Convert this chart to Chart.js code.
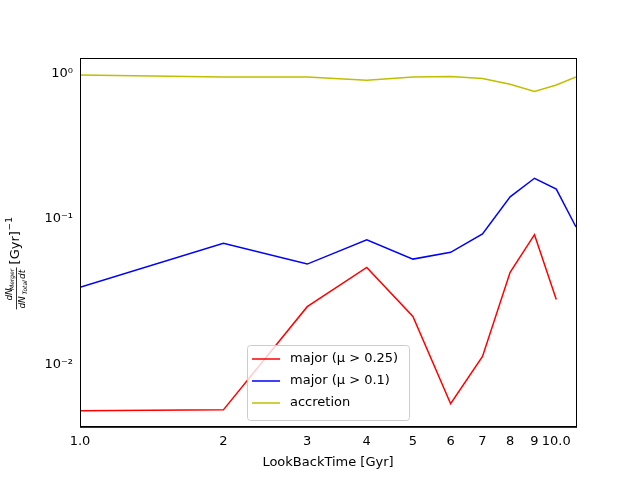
<!DOCTYPE html>
<html>
<head>
<meta charset="utf-8">
<script src="https://cdn.jsdelivr.net/npm/chart.js@4.4.0/dist/chart.umd.min.js"></script>
<style>
  body { margin: 0; background: #fff; }
  #wrap { width: 640px; height: 480px; }
</style>
</head>
<body>
<div id="wrap"><canvas id="chart" width="640" height="480"></canvas></div>
<script>
// --- Data ---
const lookBack = [1, 2, 3, 4, 5, 6, 7, 8, 9, 10, 11];
const major025 = [0.00483, 0.0049, 0.025, 0.0465, 0.0214, 0.0054, 0.0114, 0.043, 0.078, 0.028, null];
const major01 = [0.034, 0.068, 0.049, 0.072, 0.053, 0.059, 0.079, 0.1416, 0.19, 0.16, 0.088];
const accretion = [0.97, 0.94, 0.94, 0.895, 0.94, 0.95, 0.92, 0.84, 0.75, 0.83, 0.94];
const xTicks = [1, 2, 3, 4, 5, 6, 7, 8, 9, 10];
const yTicks = [0.01, 0.1, 1];

const toPoints = arr => lookBack.map((x, i) => ({ x: x, y: arr[i] })).filter(p => p.y !== null);
const sup = { '0': '⁰', '1': '¹', '2': '²', '-': '⁻' };

// legend drawn inside the plot, lower centre
const innerLegend = {
    id: 'innerLegend',
    afterDraw(chart) {
        const ctx = chart.ctx;
        const x0 = 247, y0 = 345, w = 162, h = 75;
        ctx.save();
        ctx.fillStyle = 'rgba(255,255,255,0.8)';
        ctx.strokeStyle = '#ccc';
        ctx.lineWidth = 1;
        ctx.beginPath();
        ctx.roundRect(x0 + 0.5, y0 + 0.5, w, h, 3);
        ctx.fill();
        ctx.stroke();
        ctx.font = '13px "DejaVu Sans"';
        ctx.textBaseline = 'middle';
        chart.data.datasets.forEach((ds, i) => {
            const y = y0 + 14 + i * 22;
            ctx.strokeStyle = ds.borderColor;
            ctx.lineWidth = 1.5;
            ctx.beginPath();
            ctx.moveTo(x0 + 5, y);
            ctx.lineTo(x0 + 33, y);
            ctx.stroke();
            ctx.fillStyle = '#000';
            ctx.fillText(ds.label, x0 + 43, y);
        });
        ctx.restore();
    }
};

// rotated y-axis label
const yLabel = {
    id: 'yLabel',
    afterDraw(chart) {
        const ctx = chart.ctx;
        ctx.save();
        ctx.translate(16, chart.chartArea.top + (chart.chartArea.bottom - chart.chartArea.top) / 2);
        ctx.rotate(-Math.PI / 2);
        ctx.textAlign = 'center';
        ctx.textBaseline = 'middle';
        ctx.fillStyle = '#000';
        ctx.font = 'italic 9px "DejaVu Sans"';
        ctx.fillText('dN', -52, -6);
        ctx.font = 'italic 6px "DejaVu Sans"';
        ctx.fillText('Merger', -37, -4);
        ctx.font = 'italic 9px "DejaVu Sans"';
        ctx.fillText('dN', -60, 7);
        ctx.font = 'italic 6px "DejaVu Sans"';
        ctx.fillText('Total', -45, 9);
        ctx.font = 'italic 9px "DejaVu Sans"';
        ctx.fillText('dt', -32, 7);
        ctx.fillRect(-67, 0, 42, 0.8);
        ctx.font = '13px "DejaVu Sans"';
        ctx.textAlign = 'left';
        ctx.fillText('[Gyr]', -22, 0);
        ctx.font = '9px "DejaVu Sans"';
        ctx.fillText('−1', 12, -6);
        ctx.restore();
    }
};

new Chart(document.getElementById('chart'), {
    type: 'line',
    data: {
        datasets: [
            { label: 'major (μ > 0.25)', data: toPoints(major025), borderColor: '#ff0000' },
            { label: 'major (μ > 0.1)', data: toPoints(major01), borderColor: '#0000ff' },
            { label: 'accretion', data: toPoints(accretion), borderColor: '#bfbf00' }
        ]
    },
    options: {
        responsive: false,
        animation: false,
        layout: { padding: { top: 58, right: 64, left: 0, bottom: 6 } },
        elements: { point: { radius: 0 }, line: { borderWidth: 1.5, tension: 0 } },
        plugins: { legend: { display: false }, tooltip: { enabled: false } },
        scales: {
            x: {
                type: 'logarithmic', min: 1, max: 11,
                afterBuildTicks: s => { s.ticks = xTicks.map(v => ({ value: v })); },
                ticks: {
                    color: '#000', font: { size: 13, family: 'DejaVu Sans' }, maxRotation: 0, autoSkip: false,
                    callback: v => (v === 1 ? '1.0' : v === 10 ? '10.0' : String(v))
                },
                grid: { display: false, drawTicks: true, tickLength: 4, tickColor: '#000' },
                border: { color: '#000' },
                title: { display: true, text: 'LookBackTime [Gyr]', color: '#000', font: { size: 13, family: 'DejaVu Sans' }, padding: { top: 2 } }
            },
            y: {
                type: 'logarithmic', min: 0.00375, max: 1.27,
                afterBuildTicks: s => { s.ticks = yTicks.map(v => ({ value: v })); },
                afterFit: s => { s.width = 80; },
                ticks: {
                    color: '#000', font: { size: 13, family: 'DejaVu Sans' },
                    callback: v => '10' + String(Math.round(Math.log10(v))).split('').map(c => sup[c]).join('')
                },
                grid: { display: false, drawTicks: true, tickLength: 4, tickColor: '#000' },
                border: { color: '#000' }
            }
        }
    },
    plugins: [innerLegend, yLabel, {
        id: 'frame',
        afterDraw(chart) {
            const a = chart.chartArea, ctx = chart.ctx;
            ctx.save();
            ctx.strokeStyle = '#000';
            ctx.lineWidth = 1;
            ctx.strokeRect(a.left + 0.5, a.top + 0.5, a.right - a.left, a.bottom - a.top);
            ctx.restore();
        }
    }]
});
</script>
</body>
</html>
